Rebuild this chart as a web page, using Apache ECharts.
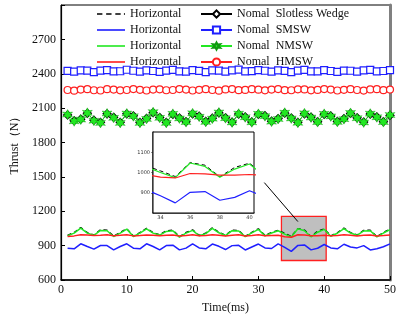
<!DOCTYPE html>
<html>
<head>
<meta charset="utf-8">
<script src="https://cdn.jsdelivr.net/npm/echarts@6/dist/echarts.min.js"></script>
<style>
  html, body { margin: 0; padding: 0; background: #fff; }
  #chart { width: 399px; height: 321px; }
</style>
</head>
<body>
<div id="chart"></div>
<script>
// Time axis (ms)
const timeMs = [1,2,3,4,5,6,7,8,9,10,11,12,13,14,15,16,17,18,19,20,21,22,23,24,25,26,27,28,29,30,31,32,33,34,35,36,37,38,39,40,41,42,43,44,45,46,47,48,49,50];

// Normal thrust (N)
const normalSlotless = [2040,1990,2004,2055,1995,1976,2050,2020,1976,2050,2033,1975,2010,2060,2018,1976,2046,2014,1982,2050,2030,1984,2012,2058,2016,1978,2048,2024,1980,2046,2034,1986,2009,2056,2014,1976,2050,2022,1982,2046,2032,1984,2008,2054,2016,1979,2048,2024,1982,2036];
const normalSMSW = [2425,2418,2430,2428,2415,2427,2432,2420,2422,2435,2426,2418,2430,2424,2416,2428,2433,2421,2419,2431,2425,2415,2429,2427,2418,2430,2436,2420,2423,2432,2426,2419,2429,2425,2414,2427,2434,2421,2420,2431,2424,2416,2428,2426,2418,2430,2433,2420,2424,2432];
const normalNMSW = [2044,1985,2000,2059,1990,1971,2053,2015,1971,2053,2029,1971,2006,2065,2015,1971,2050,2010,1978,2055,2025,1980,2008,2062,2012,1975,2052,2020,1976,2050,2030,1982,2005,2060,2010,1972,2055,2018,1978,2050,2028,1980,2004,2058,2012,1975,2052,2020,1978,2040];
const normalHMSW = [2258,2252,2262,2265,2256,2254,2265,2262,2255,2258,2266,2260,2254,2262,2264,2256,2258,2266,2262,2254,2260,2265,2258,2252,2263,2266,2257,2259,2265,2261,2255,2262,2266,2257,2256,2264,2263,2255,2259,2266,2262,2254,2260,2265,2258,2253,2263,2265,2257,2262];

// Horizontal thrust (N)
const horizSlotless = [990,1015,1058,1014,993,1038,1034,984,1015,1048,984,1014,1052,1013,995,1030,1035,978,1015,1038,990,1010,1055,1016,991,1035,1032,981,1017,1047,990,1016,1034,1008,980,1049,1036,979,1025,1046,986,1013,1053,1014,993,1033,1035,979,1015,1045];
const horizSMSW = [878,872,916,892,869,901,901,863,892,916,878,872,916,892,863,901,904,863,878,916,880,872,914,894,866,900,903,862,888,914,880,875,916,885,850,902,906,863,877,910,880,872,912,888,880,900,862,872,890,915];
const horizNMSW = [986,1009,1053,1009,990,1033,1030,980,1009,1044,980,1009,1047,1009,992,1024,1030,974,1009,1033,986,1005,1050,1012,988,1030,1028,978,1012,1042,985,1010,1030,1000,975,1047,1030,977,1017,1042,982,1008,1048,1010,990,1028,1030,976,1010,1040];
const horizHMSW = [980,985,995,992,988,990,994,986,990,995,985,988,993,990,986,990,993,984,988,994,986,988,995,990,985,991,994,985,989,995,986,988,990,977,973,995,993,987,987,990,986,989,994,990,985,990,993,985,988,993];

// Axis ticks
const yTicksMain = [600, 900, 1200, 1500, 1800, 2100, 2400, 2700];
const xTicksInset = [34, 36, 38, 40];
const yTicksInset = [900, 1000, 1100];

// Zoomed window shown in the inset: [tStart, tEnd, vLow, vHigh]
const zoomWindow = [33.5, 40.3, 770, 1155];
// Arrow from the zoom window towards the inset: [t0, v0, t1, v1]
const arrowPath = [36.0, 1110, 30.9, 1450];

const legendLabels = {
  hSlotless: 'Horizontal', hSMSW: 'Horizontal', hNMSW: 'Horizontal', hHMSW: 'Horizontal',
  nSlotless: 'Nomal  Slotless Wedge', nSMSW: 'Nomal  SMSW', nNMSW: 'Nomal  NMSW', nHMSW: 'Nomal  HMSW'
};

const pair = arr => arr.map((v, i) => [timeMs[i], v]);

const FONT = '"Liberation Serif", "Times New Roman", serif';
const BLACK = '#000';
const BLUE = '#1f1fff';
const GREEN = '#22e822';
const RED = '#ff2020';
const STAR = 'path://M0,-10 L2.6,-4.2 L8.7,-5 L4.6,0 L8.7,5 L2.6,4.2 L0,10 L-2.6,4.2 L-8.7,5 L-4.6,0 L-8.7,-5 L-2.6,-4.2 Z';
// legend keys for the plain line series
const ICON_SOLID = 'path://M0,0h26v1.5h-26z';
const ICON_DASHED = 'path://M0,0h5v1.5h-5z M8.5,0h5v1.5h-5z M17,0h5v1.5h-5z M25,0h1v1.5h-1z';

function horizSeries(name, data, color, dashed, xi, yi, z, width) {
  return {
    name: name, type: 'line', data: pair(data), xAxisIndex: xi, yAxisIndex: yi,
    symbol: 'none', showSymbol: false, z: z, animation: false,
    lineStyle: { color: color, width: width, type: dashed ? [4, 3] : 'solid' },
    itemStyle: { color: color }
  };
}

function normalSeries(name, data, color, symbol, size, filled, z) {
  return {
    name: name, type: 'line', data: pair(data), xAxisIndex: 0, yAxisIndex: 0,
    symbol: symbol, symbolSize: size, showSymbol: true, z: z, animation: false,
    lineStyle: { color: color, width: 1 },
    itemStyle: filled
      ? { color: color, borderColor: '#119911', borderWidth: 0.4 }
      : { color: '#fff', borderColor: color, borderWidth: 1.2 }
  };
}

const chart = echarts.init(document.getElementById('chart'), null, { renderer: 'canvas' });

chart.setOption({
  backgroundColor: '#fff',
  animation: false,
  textStyle: { fontFamily: FONT },
  grid: [
    { left: 61, right: 5, top: 5, bottom: 41, show: true, borderColor: BLACK, borderWidth: 1, backgroundColor: 'transparent' },
    { left: 153, top: 132, width: 101, height: 81, show: true, borderColor: BLACK, borderWidth: 1, backgroundColor: '#fff', z: 5 }
  ],
  legend: [
    {
      data: [
        { name: 'hSlotless', icon: ICON_DASHED },
        { name: 'hSMSW', icon: ICON_SOLID },
        { name: 'hNMSW', icon: ICON_SOLID },
        { name: 'hHMSW', icon: ICON_SOLID }
      ],
      orient: 'vertical', left: 92, top: 2, itemWidth: 28, itemHeight: 14, itemGap: 2,
      formatter: n => legendLabels[n],
      textStyle: { fontFamily: FONT, fontSize: 12, color: '#111', lineHeight: 14 },
      selectedMode: false
    },
    {
      data: ['nSlotless', 'nSMSW', 'nNMSW', 'nHMSW'],
      orient: 'vertical', left: 195, top: 2, itemWidth: 31, itemHeight: 9, itemGap: 2,
      formatter: n => legendLabels[n],
      textStyle: { fontFamily: FONT, fontSize: 12, color: '#111', lineHeight: 14 },
      selectedMode: false
    }
  ],
  xAxis: [
    {
      gridIndex: 0, type: 'value', min: 0, max: 50, interval: 10,
      name: 'Time(ms)', nameLocation: 'middle', nameGap: 22,
      nameTextStyle: { fontFamily: FONT, fontSize: 12, color: '#111' },
      axisLine: { lineStyle: { color: BLACK, width: 1.5 } },
      axisTick: { inside: true, length: 4, lineStyle: { color: BLACK } },
      axisLabel: { fontFamily: FONT, fontSize: 12, color: '#111', margin: 4 },
      splitLine: { show: false }
    },
    {
      gridIndex: 1, type: 'value', min: zoomWindow[0], max: zoomWindow[1],
      axisLine: { lineStyle: { color: '#444', width: 1.5 } },
      axisTick: { inside: true, length: 2, customValues: xTicksInset, lineStyle: { color: '#444', width: 0.6 } },
      axisLabel: { fontFamily: 'DejaVu Sans', fontSize: 5, color: '#333', margin: 2, customValues: xTicksInset, formatter: v => String(v) },
      splitLine: { show: false }
    }
  ],
  yAxis: [
    {
      gridIndex: 0, type: 'value', min: 600, max: 3000, interval: 300,
      name: 'Thrust（N）', nameLocation: 'middle', nameGap: 39,
      nameTextStyle: { fontFamily: FONT, fontSize: 12, color: '#111' },
      axisLine: { lineStyle: { color: BLACK, width: 1.2 } },
      axisTick: { inside: true, length: 4, lineStyle: { color: BLACK } },
      axisLabel: {
        fontFamily: FONT, fontSize: 12, color: '#111', margin: 5,
        formatter: v => (yTicksMain.indexOf(v) >= 0 ? String(v) : '')
      },
      splitLine: { show: false }
    },
    {
      gridIndex: 0, type: 'value', position: 'right', min: 600, max: 3000,
      axisLine: { show: true, lineStyle: { color: '#808080', width: 3 } },
      axisTick: { show: false }, axisLabel: { show: false }, splitLine: { show: false }
    },
    {
      gridIndex: 1, type: 'value', min: 800, max: 1200,
      axisLine: { lineStyle: { color: '#444', width: 1.5 } },
      axisTick: { inside: false, length: 2, customValues: yTicksInset, lineStyle: { color: '#444', width: 0.6 } },
      axisLabel: { fontFamily: 'DejaVu Sans', fontSize: 5, color: '#333', margin: 3, customValues: yTicksInset, formatter: v => String(v) },
      splitLine: { show: false }
    }
  ],
  series: [
    // zoom window and pointer arrow
    {
      name: 'zoomMarker', type: 'line', data: [], xAxisIndex: 0, yAxisIndex: 0, z: 1, silent: true,
      markArea: {
        silent: true,
        itemStyle: { color: '#bfbfbf', borderColor: RED, borderWidth: 1.3 },
        label: { show: false },
        data: [[{ coord: [zoomWindow[0], zoomWindow[2]] }, { coord: [zoomWindow[1], zoomWindow[3]] }]]
      },
      markLine: {
        silent: true, symbol: ['none', 'arrow'], symbolSize: [0, 8],
        label: { show: false },
        lineStyle: { color: BLACK, width: 1, type: 'solid' },
        data: [[{ coord: [arrowPath[0], arrowPath[1]] }, { coord: [arrowPath[2], arrowPath[3]] }]]
      }
    },
    // horizontal thrust, main plot
    horizSeries('hSlotless', horizSlotless, BLACK, true, 0, 0, 3, 1.3),
    horizSeries('hSMSW', horizSMSW, BLUE, false, 0, 0, 4, 1.5),
    horizSeries('hNMSW', horizNMSW, GREEN, false, 0, 0, 4, 1.5),
    horizSeries('hHMSW', horizHMSW, RED, false, 0, 0, 5, 1.5),
    // normal thrust, main plot
    normalSeries('nSlotless', normalSlotless, BLACK, 'diamond', 8, false, 3),
    normalSeries('nSMSW', normalSMSW, BLUE, 'rect', 7, false, 4),
    normalSeries('nNMSW', normalNMSW, GREEN, STAR, 10, true, 4),
    normalSeries('nHMSW', normalHMSW, RED, 'circle', 7, false, 4),
    // horizontal thrust, inset
    horizSeries('hSlotless', horizSlotless, BLACK, true, 1, 2, 6, 1),
    horizSeries('hSMSW', horizSMSW, BLUE, false, 1, 2, 7, 1.2),
    horizSeries('hNMSW', horizNMSW, GREEN, false, 1, 2, 7, 1.2),
    horizSeries('hHMSW', horizHMSW, RED, false, 1, 2, 8, 1.2)
  ]
});
</script>
</body>
</html>
